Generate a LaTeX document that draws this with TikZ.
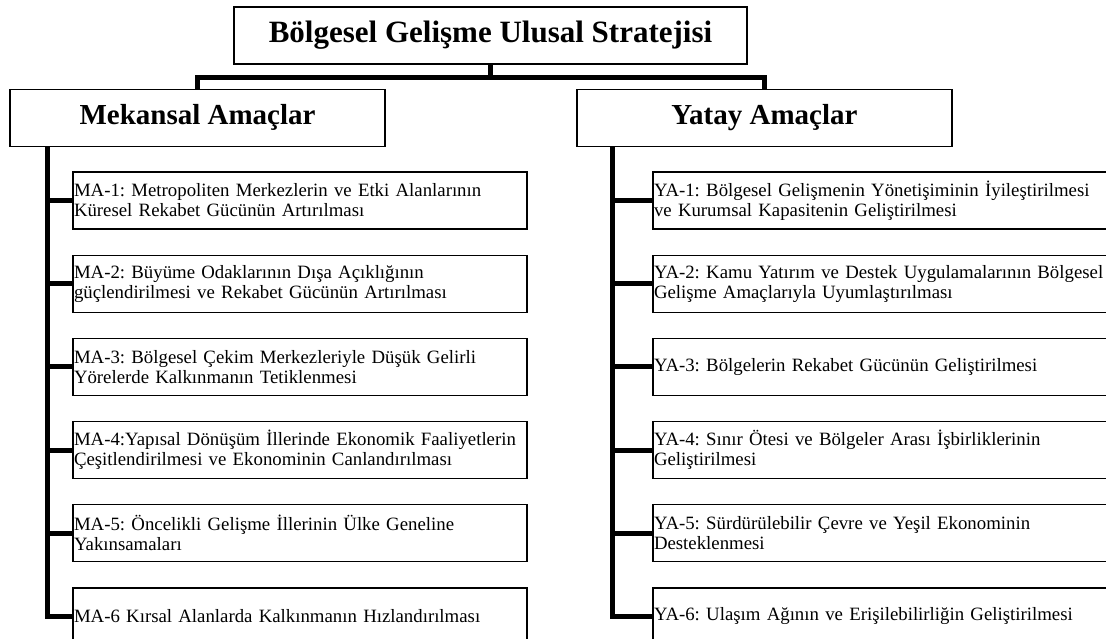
\documentclass[tikz,border=0pt]{standalone}
\usepackage{fontspec}
\setmainfont{Liberation Serif}
\frenchspacing
\usetikzlibrary{positioning}

\begin{document}
\begin{tikzpicture}[
    x=1pt, y=1pt,
    node distance=25pt,
    headbox/.style={draw, line width=1.3pt, inner sep=1pt, minimum height=57pt, text height=20pt, text depth=6pt, align=center, font=\bfseries\fontsize{29}{32}\selectfont},
    itembox/.style={draw, line width=1.2pt, inner sep=1pt, minimum height=57pt, align=left, font=\fontsize{18.8}{20}\selectfont},
    conn/.style={line width=5pt, line join=miter}
]
\useasboundingbox (0,0) rectangle (1106,639);
\clip (0,0) rectangle (1106,639);

\node[headbox, minimum width=513pt, font=\bfseries\fontsize{31}{34}\selectfont] (title) at (490.5,603.5) {Bölgesel Gelişme Ulusal Stratejisi};
\node[headbox, minimum width=375pt] (mekansal) at (197.5,521) {Mekansal Amaçlar};
\node[headbox, minimum width=375pt] (yatay) at (764.5,521) {Yatay Amaçlar};

\node[itembox, text width=452pt] (ma1) at (300,438.5) {MA-1: Metropoliten Merkezlerin ve Etki Alanlarının\\Küresel Rekabet Gücünün Artırılması};
\node[itembox, text width=452pt, below=of ma1] (ma2) {MA-2: Büyüme Odaklarının Dışa Açıklığının\\güçlendirilmesi ve Rekabet Gücünün Artırılması};
\node[itembox, text width=452pt, below=of ma2] (ma3) {MA-3: Bölgesel Çekim Merkezleriyle Düşük Gelirli\\Yörelerde Kalkınmanın Tetiklenmesi};
\node[itembox, text width=452pt, below=of ma3] (ma4) {MA-4:Yapısal Dönüşüm İllerinde Ekonomik Faaliyetlerin\\Çeşitlendirilmesi ve Ekonominin Canlandırılması};
\node[itembox, text width=452pt, below=of ma4] (ma5) {MA-5: Öncelikli Gelişme İllerinin Ülke Geneline\\Yakınsamaları};
\node[itembox, text width=452pt, below=of ma5] (ma6) {MA-6 Kırsal Alanlarda Kalkınmanın Hızlandırılması};

\node[itembox, text width=470pt] (ya1) at (889,438.5) {YA-1: Bölgesel Gelişmenin Yönetişiminin İyileştirilmesi\\ve Kurumsal Kapasitenin Geliştirilmesi};
\node[itembox, text width=470pt, below=of ya1] (ya2) {YA-2: Kamu Yatırım ve Destek Uygulamalarının Bölgesel\\Gelişme Amaçlarıyla Uyumlaştırılması};
\node[itembox, text width=470pt, below=of ya2] (ya3) {YA-3: Bölgelerin Rekabet Gücünün Geliştirilmesi};
\node[itembox, text width=470pt, below=of ya3] (ya4) {YA-4: Sınır Ötesi ve Bölgeler Arası İşbirliklerinin\\Geliştirilmesi};
\node[itembox, text width=470pt, below=of ya4] (ya5) {YA-5: Sürdürülebilir Çevre ve Yeşil Ekonominin\\Desteklenmesi};
\node[itembox, text width=470pt, below=of ya5] (ya6) {YA-6: Ulaşım Ağının ve Erişilebilirliğin Geliştirilmesi};

\draw[conn] (title.south) -- ++(0,-13) coordinate (trunk);
\draw[conn] (trunk) -| (mekansal.north);
\draw[conn] (trunk) -| (yatay.north);

\coordinate (mspine) at ([xshift=38pt]mekansal.south west);
\draw[conn] (mspine) |- (ma6.west);
\draw[conn] (ma1.west) -- (mspine |- ma1.west);
\draw[conn] (ma2.west) -- (mspine |- ma2.west);
\draw[conn] (ma3.west) -- (mspine |- ma3.west);
\draw[conn] (ma4.west) -- (mspine |- ma4.west);
\draw[conn] (ma5.west) -- (mspine |- ma5.west);

\coordinate (yspine) at ([xshift=36pt]yatay.south west);
\draw[conn] (yspine) |- (ya6.west);
\draw[conn] (ya1.west) -- (yspine |- ya1.west);
\draw[conn] (ya2.west) -- (yspine |- ya2.west);
\draw[conn] (ya3.west) -- (yspine |- ya3.west);
\draw[conn] (ya4.west) -- (yspine |- ya4.west);
\draw[conn] (ya5.west) -- (yspine |- ya5.west);

\end{tikzpicture}
\end{document}
